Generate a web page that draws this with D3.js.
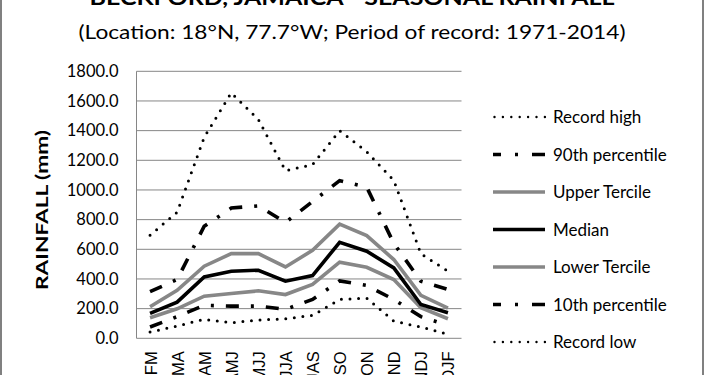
<!DOCTYPE html>
<html><head><meta charset="utf-8">
<script src="https://cdn.jsdelivr.net/npm/d3@7"></script>
<style>
body{margin:0;background:#fff;}
svg{display:block;font-family:Lato,"Open Sans",sans-serif;}
</style></head>
<body><svg id="c" width="705" height="375"></svg>
<script>
const seasons = ["JFM","FMA","MAM","AMJ","MJJ","JJA","JAS","ASO","SON","OND","NDJ","DJF"];
const recordHigh = [695, 850, 1355, 1655, 1475, 1130, 1170, 1400, 1258, 1065, 570, 452];
const p90 = [315, 396, 755, 878, 893, 781, 922, 1063, 1019, 640, 385, 329];
const upperTercile = [213, 324, 486, 571, 571, 481, 593, 770, 692, 531, 289, 204];
const median = [168, 244, 414, 452, 459, 385, 423, 647, 587, 475, 228, 172];
const lowerTercile = [139, 199, 284, 302, 320, 295, 363, 513, 479, 396, 206, 132];
const p10 = [76, 146, 222, 217, 217, 195, 262, 387, 356, 262, 146, 87];
const recordLow = [42, 83, 128, 105, 123, 132, 154, 262, 271, 116, 76, 27];
const yTicks = [0,200,400,600,800,1000,1200,1400,1600,1800];

const series = [
  {name:"Record high", values:recordHigh, style:"dot"},
  {name:"90th percentile", values:p90, style:"dashdot"},
  {name:"Upper Tercile", values:upperTercile, style:"gray"},
  {name:"Median", values:median, style:"black"},
  {name:"Lower Tercile", values:lowerTercile, style:"gray"},
  {name:"10th percentile", values:p10, style:"dashdot"},
  {name:"Record low", values:recordLow, style:"dot"}
];

const svg = d3.select("#c");
const gridC = "#868686";
// outer border
svg.append("rect").attr("x",1).attr("y",-5).attr("width",702).attr("height",390)
  .attr("fill","none").attr("stroke","#808080").attr("stroke-width",2);

const L=136.5, R=461.5, T=71.3, B=338.3;
const x = d3.scalePoint().domain(seasons).range([L,R]).padding(0.5);
const y = d3.scaleLinear().domain([0,1800]).range([B,T]);

// gridlines
svg.append("g").selectAll("line").data(yTicks).join("line")
  .attr("x1",L).attr("x2",R).attr("y1",d=>y(d)).attr("y2",d=>y(d))
  .attr("stroke",gridC).attr("stroke-width",1);
svg.append("line").attr("x1",L).attr("x2",L).attr("y1",T).attr("y2",B)
  .attr("stroke",gridC).attr("stroke-width",1);

// y axis labels
const yAxis = d3.axisLeft(y).tickValues(yTicks).tickFormat(d3.format(".1f")).tickSize(0).tickPadding(18);
const ga = svg.append("g").attr("transform",`translate(${L},0)`).call(yAxis);
ga.select(".domain").remove();
ga.selectAll("text").attr("font-size",16.5).attr("fill","#000").attr("font-family","Lato,sans-serif");

// x axis labels
const xAxis = d3.axisBottom(x).tickSize(0).tickPadding(0);
const gx = svg.append("g").attr("transform",`translate(0,${B})`).call(xAxis);
gx.select(".domain").remove();
gx.selectAll("text").attr("font-size",16.5).attr("fill","#000")
  .attr("text-anchor","end").attr("dy",null)
  .attr("transform","translate(6,13) rotate(-90)");

// y title
svg.append("text").attr("transform","translate(48,210) rotate(-90)")
  .attr("text-anchor","middle").attr("font-weight","bold").attr("font-size",17)
  .attr("textLength",160).attr("lengthAdjust","spacingAndGlyphs")
  .text("RAINFALL (mm)");

// titles
svg.append("text").attr("x",352).attr("y",5).attr("text-anchor","middle")
  .attr("font-weight","bold").attr("font-size",20).attr("textLength",525).attr("lengthAdjust","spacingAndGlyphs")
  .text("BECKFORD, JAMAICA - SEASONAL RAINFALL");
svg.append("text").attr("x",352).attr("y",39).attr("text-anchor","middle")
  .attr("font-size",19).attr("textLength",547).attr("lengthAdjust","spacingAndGlyphs")
  .text("(Location: 18°N, 77.7°W; Period of record: 1971-2014)");

function applyStyle(sel, style, legend){
  if(style==="dot"){
    sel.attr("stroke","#000").attr("stroke-width",3).attr("stroke-linecap","round").attr("stroke-dasharray","0 8.6");
  } else if(style==="dashdot"){
    sel.attr("stroke","#000").attr("stroke-width",3.6).attr("stroke-linecap","butt")
      .attr("stroke-dasharray", legend ? "8 14 3 14 14" : "13 12 3 12");
  } else if(style==="gray"){
    sel.attr("stroke","#878787").attr("stroke-width",3.6).attr("stroke-linejoin","miter");
  } else {
    sel.attr("stroke","#000").attr("stroke-width",3.6).attr("stroke-linejoin","miter");
  }
  sel.attr("fill","none");
}

const line = d3.line().x((d,i)=>x(seasons[i])).y(d=>y(d));
const drawOrder = [6,5,4,2,1,0,3];
drawOrder.forEach(k=>{
  const s = series[k];
  const p = svg.append("path").attr("d", line(s.values));
  applyStyle(p, s.style, false);
});

// legend
const lg = svg.append("g");
series.forEach((s,i)=>{
  const yy = 117 + i*37.5;
  const ln = lg.append("line").attr("x1",493).attr("x2",545).attr("y1",yy).attr("y2",yy);
  applyStyle(ln, s.style, true);
  if(s.style==="dot") ln.attr("stroke-width",2.4).attr("stroke-dasharray","0 8.4").attr("x1",494.5);
  lg.append("text").attr("x",553).attr("y",yy+6).attr("font-size",17).text(s.name);
});
</script></body></html>
